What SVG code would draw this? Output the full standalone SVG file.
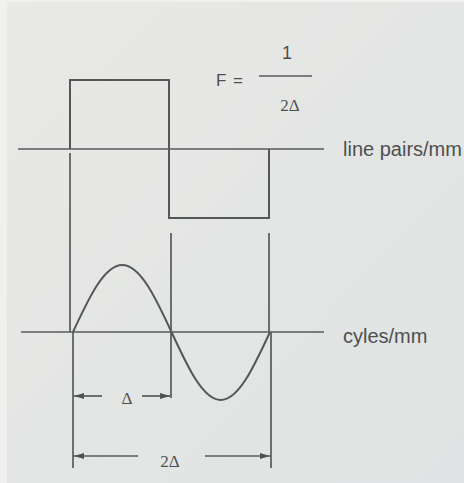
<svg xmlns="http://www.w3.org/2000/svg" width="464" height="483" viewBox="0 0 464 483">
<style>
.ln{stroke:#585a5a;stroke-width:1.7;fill:none}
.wv{stroke:#555757;stroke-width:2;fill:none}
.sans{font-family:"Liberation Sans",Arial,sans-serif;fill:#4e5050}
.serif{font-family:"Liberation Serif","Times New Roman",serif;fill:#4e5050}
</style>
<defs>
<linearGradient id="bg" x1="0" y1="0" x2="1" y2="1">
<stop offset="0" stop-color="#e9e9e6"/>
<stop offset="1" stop-color="#dfe3e3"/>
</linearGradient>
<marker id="ah" viewBox="0 0 10 6" refX="10" refY="3" markerWidth="10" markerHeight="6" markerUnits="userSpaceOnUse" orient="auto-start-reverse">
<path d="M0,0 L10,3 L0,6 Z" fill="#505252"/>
</marker>
</defs>
<rect width="464" height="483" fill="url(#bg)"/>
<rect x="0" y="0" width="7" height="483" fill="#f1f0ee"/>
<rect x="0" y="0" width="464" height="2" fill="#f1f0ee"/>

<g id="square-wave">
<path class="wv" d="M70,149 L70,80 L169,80 L169,218 L269,218 L269,149"/>
</g>
<g id="axis-line-pairs">
<line class="ln" x1="18" y1="149" x2="324" y2="149"/>
</g>
<g id="sine-wave">
<path class="wv" d="M73,332 C89.06,297.16 104.42,265 122.25,265 C140.08,265 155.44,297.16 171.5,332 C187.56,366.84 202.92,400 220.75,400 C238.58,400 253.94,366.84 270,332"/>
</g>
<g id="axis-cycles">
<line class="ln" x1="21" y1="332" x2="324" y2="332"/>
</g>

<g id="connectors">
<line class="ln" x1="70" y1="153" x2="70" y2="332"/>
<line class="ln" x1="73" y1="332" x2="73" y2="468"/>
<line class="ln" x1="171" y1="233" x2="171" y2="398"/>
<line class="ln" x1="269" y1="233" x2="269" y2="332"/>
<line class="ln" x1="271" y1="332" x2="271" y2="468"/>
<line class="ln" x1="102" y1="396" x2="74" y2="396" marker-end="url(#ah)"/>
<line class="ln" x1="142" y1="396" x2="170" y2="396" marker-end="url(#ah)"/>
<line class="ln" x1="138" y1="456" x2="74" y2="456" marker-end="url(#ah)"/>
<line class="ln" x1="205" y1="456" x2="270" y2="456" marker-end="url(#ah)"/>
</g>

<g id="formula">
<text class="sans" x="216" y="86" font-size="17" letter-spacing="1">F =</text>
<line class="ln" x1="259" y1="76" x2="312" y2="76"/>
<text class="sans" x="287" y="59" font-size="18" text-anchor="middle">1</text>
<text class="serif" x="290" y="111" font-size="17" text-anchor="middle">2Δ</text>
</g>
<g id="label-line-pairs">
<text class="sans" x="343" y="156" font-size="20">line pairs/mm</text>
</g>
<g id="label-cycles">
<text class="sans" x="343" y="343" font-size="20">cyles/mm</text>
</g>
<g id="label-delta">
<text class="serif" x="127" y="404" font-size="17" text-anchor="middle">Δ</text>
</g>
<g id="label-2delta">
<text class="serif" x="170" y="467" font-size="17" text-anchor="middle">2Δ</text>
</g>
</svg>
